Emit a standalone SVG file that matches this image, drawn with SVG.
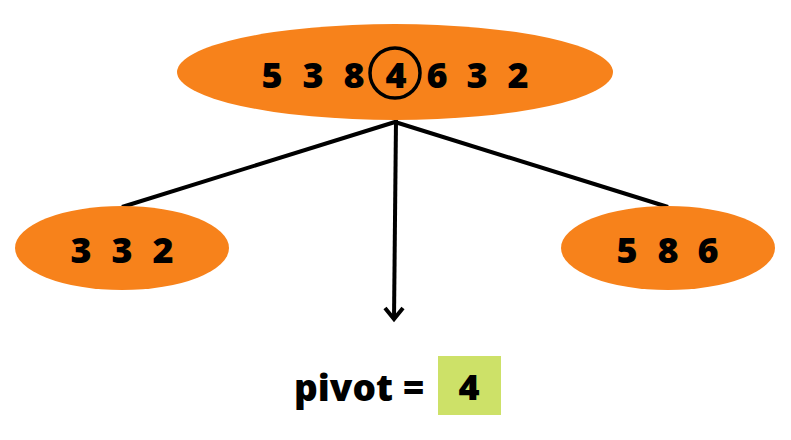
<svg xmlns="http://www.w3.org/2000/svg" width="791" height="440" viewBox="0 0 791 440">
<style>
.node{fill:#F7821B}
.num{font-family:"Open Sans","DejaVu Sans",sans-serif;font-weight:800;font-size:36px;fill:#000;text-anchor:middle}
.edge{stroke:#000;stroke-width:4;fill:none;stroke-linecap:butt}
</style>
<rect width="791" height="440" fill="#fff"/>
<g id="connectors">
<line class="edge" x1="395" y1="122" x2="122" y2="207"/>
<line class="edge" x1="395" y1="122" x2="668" y2="207"/>
<line class="edge" x1="396" y1="120" x2="394" y2="319"/>
<polyline class="edge" points="385,308 394,319 403,308" stroke-linejoin="miter"/>
</g>
<g id="root">
<ellipse class="node" cx="395" cy="72" rx="218" ry="48"/>
<text class="num" y="88"><tspan x="272">5</tspan><tspan x="313">3</tspan><tspan x="354">8</tspan><tspan x="396">4</tspan><tspan x="437">6</tspan><tspan x="477">3</tspan><tspan x="518">2</tspan></text>
<circle cx="395" cy="73" r="25" fill="none" stroke="#000" stroke-width="3.5"/>
</g>
<g id="left">
<ellipse class="node" cx="122" cy="248" rx="107" ry="42"/>
<text class="num" y="263"><tspan x="81">3</tspan><tspan x="122">3</tspan><tspan x="163">2</tspan></text>
</g>
<g id="right">
<ellipse class="node" cx="668" cy="248" rx="107" ry="42"/>
<text class="num" y="263"><tspan x="627">5</tspan><tspan x="668">8</tspan><tspan x="708">6</tspan></text>
</g>
<g id="pivot">
<text x="294" y="401" font-family="'Open Sans','DejaVu Sans',sans-serif" font-weight="800" font-size="37">pivot =</text>
<rect x="438" y="356" width="63" height="59" fill="#CDE168"/>
<text class="num" x="469" y="400">4</text>
</g>
</svg>
